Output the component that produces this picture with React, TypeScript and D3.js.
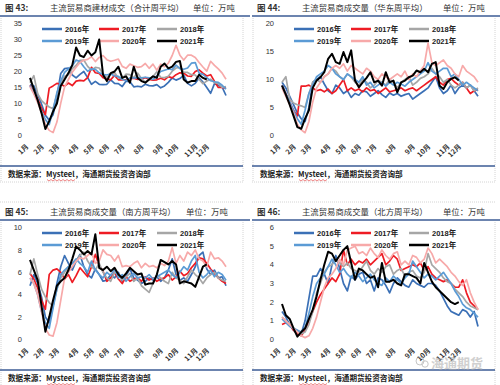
import React from 'react';
import * as d3 from 'd3';

const years = ['2016年', '2017年', '2018年', '2019年', '2020年', '2021年'];
const colors = ['#3b70b6', '#ee1c24', '#a6a6a6', '#5b9bd5', '#f7a9a9', '#000000'];
const monthLabels = ['1月', '2月', '3月', '4月', '5月', '6月', '7月', '8月', '9月', '10月', '11月', '12月'];
const monthWeeks = [0, 4, 8, 13, 17, 21, 25, 30, 35, 39, 44, 47];

// 合计
const total2016 = [15.8, 15.5, 12.8, 9.8, 6.3, 4.8, 6.5, 12.2, 19.4, 20.9, 21.1, 18.9, 18.0, 19.1, 20.0, 18.1, 16.0, 16.9, 16.0, 15.9, 16.0, 17.4, 16.3, 16.2, 15.3, 17.0, 16.8, 15.2, 15.4, 15.2, 16.0, 15.6, 15.5, 15.9, 14.9, 15.5, 16.6, 18.0, 17.3, 17.8, 18.9, 16.3, 15.5, 16.3, 18.0, 16.7, 15.0, 13.2, 16.2, 15.7, 15.1, 12.5];
const total2017 = [15.7, 13.8, 11.4, 8.5, 6.5, 14.8, 15.5, 16.3, 16.0, 15.4, 16.4, 15.6, 17.0, 17.2, 17.1, 18.1, 21.3, 19.6, 19.4, 18.1, 17.7, 17.4, 18.8, 17.4, 17.4, 17.5, 17.8, 17.9, 17.5, 17.7, 18.1, 17.5, 17.3, 17.4, 17.9, 17.4, 18.4, 18.0, 19.0, 19.6, 19.5, 18.6, 18.5, 20.0, 20.5, 19.5, 18.6, 19.0, 16.9, 15.0, 15.0, 14.8];
const total2018 = [16.5, 18.7, 13.1, 10.9, 9.8, 8.9, 8.4, 12.8, 16.5, 18.5, 19.0, 20.9, 21.9, 23.5, 23.6, 21.6, 20.4, 21.3, 21.1, 19.2, 18.1, 19.1, 19.7, 18.0, 17.8, 19.2, 19.0, 18.1, 19.5, 17.8, 16.7, 17.5, 18.4, 19.9, 18.2, 18.1, 18.5, 20.1, 21.1, 21.3, 19.8, 19.7, 19.0, 18.9, 17.5, 16.2, 17.0, 17.6, 16.5, 16.3, 15.0, 15.3];
const total2019 = [15.6, 13.4, 10.7, 7.6, 5.0, 3.4, 7.9, 13.4, 17.1, 19.7, 20.8, 21.8, 23.6, 23.1, 21.5, 20.1, 20.8, 20.7, 19.6, 19.1, 18.9, 19.3, 18.6, 18.5, 17.5, 17.2, 18.0, 18.0, 18.1, 18.0, 18.2, 18.0, 17.5, 18.6, 20.0, 20.4, 20.8, 20.6, 22.0, 20.9, 20.7, 21.1, 22.6, 22.8, 19.5, 19.1, 18.1, 17.1, 16.8, 16.6, 15.7, 14.5];
const total2020 = [15.2, 13.0, 10.3, 7.1, 3.4, 1.6, 0.9, 4.2, 10.1, 15.2, 17.5, 19.8, 21.3, 22.8, 23.5, 23.8, 24.6, 23.1, 24.4, 25.0, 23.7, 23.2, 23.5, 23.9, 21.6, 21.0, 22.3, 21.8, 21.3, 21.5, 22.5, 21.0, 22.3, 20.4, 22.3, 21.5, 22.6, 25.0, 28.2, 25.1, 23.6, 25.1, 25.1, 24.4, 22.8, 21.4, 20.1, 23.2, 21.9, 20.8, 19.5, 17.6];
const total2021 = [18, 14.5, 11, 7, 2, 4.5, 7.5, 10, 15.5, 17.5, 19.5, 22, 27.5, 25, 24.5, 26.5, 25, 26, 30, 19, 17, 19.5, 20, 21.5, 18, 18.5, 16.5, 21.5, 18, 17, 16.5, 17.5, 18.5, 18, 21.5, 22.5, 21, 21.5, 23, 23.3, 17.5, 16.5, 17, 17, 19, 18, 17.5];

// 华东
const east2016 = [9.5, 8.5, 7.0, 5.5, 4.0, 3.0, 2.5, 5.0, 9.5, 10.0, 10.5, 9.2, 8.0, 7.5, 9.0, 8.5, 7.5, 8.0, 6.8, 7.5, 7.2, 8.0, 7.8, 7.0, 7.5, 8.0, 7.3, 6.8, 7.6, 7.2, 7.5, 7.0, 7.3, 7.5, 6.5, 7.0, 7.5, 8.0, 8.5, 9.5, 10.5, 8.5, 7.5, 8.0, 9.0, 7.5, 8.5, 9.0, 8.5, 9.0, 8.0, 7.0];
const east2017 = [9.0, 7.5, 6.0, 4.5, 3.5, 8.8, 8.8, 9.0, 8.5, 8.0, 8.2, 7.8, 8.3, 7.5, 8.0, 9.0, 10.0, 8.0, 8.5, 8.0, 8.3, 7.8, 8.5, 8.0, 8.2, 7.5, 8.0, 8.5, 7.8, 8.0, 8.2, 8.5, 8.0, 8.3, 8.5, 8.0, 8.5, 9.0, 9.5, 10.0, 10.5, 9.5, 9.0, 10.0, 10.2, 9.5, 9.0, 9.5, 8.5, 7.5, 8.0, 8.2];
const east2018 = [9.5, 10.5, 6.5, 5.8, 5.5, 5.3, 5.0, 7.5, 9.5, 10.0, 9.5, 10.5, 11.0, 12.0, 11.5, 10.5, 10.0, 11.0, 10.5, 9.5, 9.0, 10.0, 9.5, 8.5, 9.0, 9.8, 9.5, 9.0, 10.0, 9.5, 8.5, 9.5, 10.0, 10.5, 9.0, 9.5, 10.2, 10.5, 11.0, 12.0, 11.0, 10.5, 9.5, 10.0, 9.0, 8.5, 9.0, 9.5, 8.5, 9.0, 8.0, 8.5];
const east2019 = [9.0, 7.5, 6.0, 4.5, 3.0, 2.0, 4.5, 7.5, 9.0, 10.5, 11.0, 11.5, 12.5, 12.0, 11.0, 10.5, 10.0, 11.0, 10.5, 10.0, 9.5, 10.5, 9.0, 9.5, 8.5, 9.0, 9.5, 8.8, 9.5, 9.0, 9.5, 9.2, 8.8, 9.5, 10.0, 10.5, 11.0, 11.5, 13.0, 11.5, 11.0, 11.5, 12.0, 12.0, 10.5, 11.0, 10.0, 9.0, 9.5, 9.0, 8.5, 8.0];
const east2020 = [8.5, 7.0, 5.5, 4.0, 2.0, 1.0, 0.5, 2.5, 6.0, 8.5, 9.5, 10.5, 11.0, 12.0, 12.5, 12.0, 12.8, 11.5, 12.5, 12.0, 11.5, 11.0, 12.0, 11.5, 10.5, 10.0, 11.0, 10.5, 10.0, 10.5, 11.0, 10.5, 11.5, 10.0, 11.0, 10.5, 11.5, 12.5, 16.5, 13.0, 12.5, 13.0, 13.5, 12.5, 12.0, 11.0, 10.5, 12.5, 11.5, 11.0, 10.5, 9.5];
const east2021 = [8.9, 7.3, 5.5, 3.5, 1.5, 1.2, 3.0, 4.5, 8.5, 9.8, 10.4, 11.3, 13.7, 14.6, 13.1, 12.8, 14.9, 13.1, 15.2, 9.8, 8.6, 9.5, 10.3, 11.3, 9.5, 9.8, 8.9, 11.3, 9.5, 9.8, 7.7, 9.5, 9.8, 10.4, 10.7, 11.6, 11.3, 11.9, 11.3, 12.8, 13.1, 8.9, 8.3, 9.5, 10.1, 10.4, 9.8];

// 南方
const south2016 = [4.8, 5.8, 5.0, 3.8, 2.0, 1.5, 3.0, 5.0, 6.5, 7.5, 6.8, 6.2, 7.0, 7.6, 6.5, 5.8, 5.5, 6.3, 5.8, 5.2, 5.3, 5.8, 5.5, 6.0, 5.2, 5.7, 6.3, 5.5, 5.3, 5.0, 5.2, 5.5, 5.3, 5.6, 5.2, 5.5, 6.2, 7.2, 5.8, 5.3, 5.5, 5.2, 5.8, 6.5, 7.5, 7.8, 6.3, 5.8, 6.2, 5.5, 5.6, 4.8];
const south2017 = [5.9, 5.4, 4.6, 3.5, 2.7, 5.8, 6.2, 6.3, 6.0, 5.4, 5.8, 5.1, 5.7, 6.4, 6.0, 5.6, 6.5, 7.6, 6.6, 6.1, 5.2, 5.5, 6.0, 5.4, 5.0, 5.6, 5.2, 5.4, 5.5, 5.2, 5.6, 5.3, 5.5, 5.2, 5.4, 5.5, 5.8, 5.3, 5.6, 6.1, 5.7, 5.9, 6.4, 6.8, 7.3, 7.2, 6.8, 6.3, 5.9, 5.5, 5.2, 5.0];
const south2018 = [5.8, 7.2, 5.8, 4.5, 3.8, 3.3, 3.0, 4.5, 5.5, 6.0, 6.5, 6.8, 7.0, 7.5, 7.8, 7.0, 6.5, 6.2, 6.8, 6.0, 5.5, 5.2, 6.0, 5.8, 5.3, 5.6, 5.9, 5.2, 5.5, 4.8, 4.5, 4.2, 5.0, 5.8, 5.5, 5.2, 5.0, 6.0, 5.5, 5.3, 5.0, 5.6, 6.2, 5.8, 5.5, 5.0, 5.5, 5.8, 6.0, 5.5, 5.3, 5.2];
const south2019 = [5.5, 5.0, 4.0, 2.5, 1.5, 1.0, 2.8, 4.5, 5.8, 6.2, 6.5, 6.8, 7.2, 6.8, 6.5, 6.0, 7.0, 6.2, 5.8, 5.5, 6.0, 5.7, 6.3, 5.5, 5.8, 5.2, 5.6, 5.9, 5.5, 5.6, 5.5, 5.8, 5.4, 5.6, 5.8, 6.0, 6.2, 5.8, 5.5, 6.0, 6.5, 6.2, 7.0, 7.5, 6.0, 5.5, 5.8, 6.2, 5.6, 6.0, 5.8, 5.3];
const south2020 = [5.5, 5.0, 4.0, 2.5, 1.0, 0.4, 0.3, 1.5, 3.5, 5.5, 6.0, 6.5, 7.0, 7.3, 7.2, 7.5, 7.8, 6.8, 7.0, 8.0, 7.6, 7.5, 7.0, 7.5, 6.5, 6.6, 6.5, 6.8, 7.0, 6.4, 6.8, 6.5, 6.6, 6.4, 6.8, 6.6, 7.0, 8.2, 6.8, 7.5, 7.0, 7.8, 7.5, 8.0, 7.2, 7.0, 6.5, 7.8, 7.2, 7.3, 7.0, 6.5];
const south2021 = [7.1, 6.2, 5.3, 3.0, 0.7, 2.0, 3.5, 4.8, 5.2, 5.5, 6.2, 7.2, 8.3, 8.0, 7.6, 7.9, 7.6, 9.4, 6.4, 6.2, 6.5, 6.1, 6.4, 5.8, 5.5, 5.9, 6.4, 6.1, 5.8, 5.9, 4.9, 5.0, 5.0, 5.8, 7.1, 6.9, 6.7, 7.0, 6.7, 5.0, 5.2, 5.1, 5.0, 4.7, 5.6, 6.5, 6.7];

// 北方
const north2016 = [1.5, 1.2, 0.8, 0.5, 0.3, 0.3, 1.0, 2.2, 3.4, 3.4, 3.8, 3.5, 3.0, 4.0, 4.5, 3.8, 3.0, 2.6, 3.4, 3.2, 3.5, 3.6, 3.0, 3.2, 2.6, 3.3, 3.2, 2.9, 2.5, 3.0, 3.3, 3.1, 2.9, 2.8, 3.2, 3.0, 2.9, 2.8, 3.0, 3.0, 2.9, 2.6, 2.2, 1.8, 1.5, 1.4, 1.3, 1.6, 1.5, 1.2, 1.5, 0.7];
const north2017 = [0.8, 0.9, 0.8, 0.5, 0.3, 0.2, 0.5, 1.0, 1.5, 2.0, 2.4, 2.7, 3.0, 3.3, 3.1, 3.5, 4.8, 4.0, 4.3, 4.0, 4.2, 4.1, 4.3, 4.0, 4.2, 4.4, 4.6, 4.0, 4.2, 4.5, 4.3, 3.7, 3.8, 3.9, 4.0, 3.9, 4.1, 3.7, 3.9, 3.5, 3.3, 3.2, 3.1, 3.2, 3.0, 2.8, 2.8, 3.2, 2.5, 2.0, 1.8, 1.6];
const north2018 = [1.2, 1.0, 0.8, 0.6, 0.5, 0.3, 0.4, 0.8, 1.5, 2.5, 3.0, 3.6, 3.9, 4.0, 4.3, 4.1, 3.9, 4.1, 3.8, 3.7, 3.6, 3.9, 4.2, 3.7, 3.5, 3.8, 3.6, 3.9, 4.0, 3.5, 3.7, 3.8, 3.4, 3.6, 3.7, 3.4, 3.3, 3.6, 4.6, 4.0, 3.8, 3.6, 3.3, 3.1, 3.0, 2.7, 2.5, 2.3, 2.0, 1.8, 1.7, 1.6];
const north2019 = [1.1, 0.9, 0.7, 0.6, 0.5, 0.4, 0.6, 1.4, 2.3, 3.0, 3.3, 3.5, 3.9, 4.3, 4.0, 3.6, 3.8, 3.5, 3.3, 3.6, 3.4, 3.1, 3.3, 3.5, 3.2, 3.0, 2.9, 3.3, 3.1, 3.4, 3.2, 3.0, 3.3, 3.5, 4.2, 3.9, 3.6, 3.3, 3.5, 3.4, 3.2, 3.4, 3.6, 3.3, 3.0, 2.6, 2.3, 1.9, 1.7, 1.6, 1.4, 1.2];
const north2020 = [1.2, 1.0, 0.8, 0.6, 0.4, 0.2, 0.1, 0.2, 0.6, 1.2, 2.0, 2.8, 3.3, 3.5, 3.8, 4.3, 4.0, 4.8, 4.9, 5.0, 4.6, 4.7, 4.5, 4.9, 4.6, 4.4, 4.8, 4.5, 4.3, 4.6, 4.7, 4.0, 4.2, 4.0, 4.5, 4.4, 4.1, 4.3, 4.9, 4.6, 4.1, 4.3, 4.1, 3.9, 3.6, 3.4, 3.1, 2.9, 3.2, 2.5, 2.0, 1.6];
const north2021 = [1.9, 1.3, 1.1, 0.6, 0.15, 0.4, 0.6, 1.1, 1.6, 2.3, 3.2, 4.0, 4.7, 4.6, 4.2, 4.5, 4.8, 5.0, 4.1, 3.2, 3.8, 3.7, 3.5, 3.3, 3.4, 2.8, 4.1, 3.1, 3.1, 3.2, 3.0, 2.9, 3.5, 3.5, 3.4, 3.3, 3.0, 4.1, 3.6, 3.1, 2.8, 2.6, 2.4, 2.2, 2.0, 1.9, 2.0];

interface PanelProps {
  dx: number;
  dy: number;
  fig: string;
  title: string;
  unitX: number;
  yMax: number;
  yStep: number;
  series: number[][];
}

const cjk = '"Noto Sans CJK SC", "Liberation Sans", sans-serif';
const latin = '"Liberation Sans", Arial, "Noto Sans CJK SC", sans-serif';

const Panel: React.FC<PanelProps> = ({ dx, dy, fig, title, unitX, yMax, yStep, series }) => {
  const x = d3.scaleLinear().domain([0, 51]).range([30, 226]);
  const y = d3.scaleLinear().domain([0, yMax]).range([135.5, 23.5]);
  const line = d3.line<number>().x((_, i) => x(i)).y(d => y(d));
  const ticks = y.ticks(yMax / yStep).filter(t => t % yStep === 0);
  const legendCols = [42, 99, 157];
  const legendRows = [29, 41];

  // spell-check squiggle under "Mysteel"
  let squiggle = 'M47,179.5';
  for (let k = 1; k <= 14; k++) squiggle += `L${47 + k * 2},${k % 2 ? 181 : 179.5}`;

  return (
    <g transform={`translate(${dx},${dy})`}>
      {/* frame */}
      <line x1={1} x2={1} y1={18} y2={181} stroke="#d4d4d4" strokeDasharray="1,1" />
      <line x1={243} x2={243} y1={18} y2={181} stroke="#d4d4d4" strokeDasharray="1,1" />
      <line x1={0} x2={243} y1={-2} y2={-2} stroke="#d4d4d4" strokeDasharray="1,1" />
      <line x1={0} x2={243} y1={182} y2={182} stroke="#d4d4d4" strokeDasharray="1,1" />
      <line x1={0} x2={250} y1={16} y2={16} stroke="#3b5b94" strokeWidth={1.5} />
      <line x1={0} x2={243} y1={166} y2={166} stroke="#3b5b94" strokeWidth={1.5} />

      {/* title */}
      <text x={5} y={11} fontFamily={cjk} fontWeight="bold" fontSize={8.5} fill="#333">{fig}</text>
      <text x={50} y={11} fontFamily={cjk} fontSize={8.4} fill="#333">{title}</text>
      <text x={unitX} y={11} fontFamily={cjk} fontSize={8.4} fill="#333">单位：万吨</text>

      {/* y axis labels */}
      {ticks.map(t => (
        <text key={t} x={22} y={y(t) + 2.6} textAnchor="end" fontFamily={latin} fontSize={7.5} fill="#333">{t}</text>
      ))}

      {/* x axis labels */}
      {monthWeeks.map((w, i) => (
        <text
          key={i}
          transform={`translate(${x(w) - 1},${147}) rotate(-45)`}
          textAnchor="end"
          fontFamily={cjk}
          fontWeight="bold"
          fontSize={7}
          fill="#333"
        >
          {monthLabels[i]}
        </text>
      ))}

      {/* legend */}
      {years.map((yr, i) => {
        const lx = legendCols[i % 3];
        const ly = legendRows[Math.floor(i / 3)];
        return (
          <g key={yr}>
            <line x1={lx} x2={lx + 20} y1={ly} y2={ly} stroke={colors[i]} strokeWidth={2.5} />
            <text x={lx + 23} y={ly + 2.7} fontFamily={latin} fontWeight="bold" fontSize={7.5} fill="#222">{yr}</text>
          </g>
        );
      })}

      {/* lines */}
      {series.map((s, i) => (
        <path key={i} d={line(s) ?? ''} fill="none" stroke={colors[i]} strokeWidth={i === 5 ? 2 : 1.7} strokeLinejoin="round" />
      ))}

      {/* source */}
      <text x={8} y={177} fontFamily={cjk} fontWeight="bold" fontSize={7.6} fill="#222">数据来源：Mysteel，海通期货投资咨询部</text>
      <path d={squiggle} fill="none" stroke="#e03030" strokeWidth={0.6} />
    </g>
  );
};

const App: React.FC = () => {
  const panels: PanelProps[] = [
    { dx: 0, dy: 0, fig: '图 43:', title: '主流贸易商建材成交（合计周平均）', unitX: 193, yMax: 35, yStep: 5,
      series: [total2016, total2017, total2018, total2019, total2020, total2021] },
    { dx: 252, dy: 0, fig: '图 44:', title: '主流贸易商成交量（华东周平均）', unitX: 191, yMax: 20, yStep: 5,
      series: [east2016, east2017, east2018, east2019, east2020, east2021] },
    { dx: 0, dy: 204, fig: '图 45:', title: '主流贸易商成交量（南方周平均）', unitX: 186, yMax: 10, yStep: 2,
      series: [south2016, south2017, south2018, south2019, south2020, south2021] },
    { dx: 252, dy: 204, fig: '图 46:', title: '主流贸易商成交量（北方周平均）', unitX: 191, yMax: 6, yStep: 1,
      series: [north2016, north2017, north2018, north2019, north2020, north2021] },
  ];

  return (
    <svg
      width={500}
      height={385}
      viewBox="0 0 500 385"
      style={{ position: 'absolute', left: 0, top: 0, background: '#fff' }}
    >
      <rect width={500} height={385} fill="#fff" />
      {panels.map(p => <Panel key={p.fig} {...p} />)}
      {/* watermark */}
      <g opacity={0.55}>
        <circle cx={420} cy={361} r={4} fill="none" stroke="#999" strokeWidth={1} />
        <circle cx={425} cy={364} r={3.2} fill="none" stroke="#999" strokeWidth={1} />
        <text x={431} y={368} fontFamily={cjk} fontWeight="bold" fontSize={13} fill="#aaa">海通期货</text>
      </g>
    </svg>
  );
};

export default App;
